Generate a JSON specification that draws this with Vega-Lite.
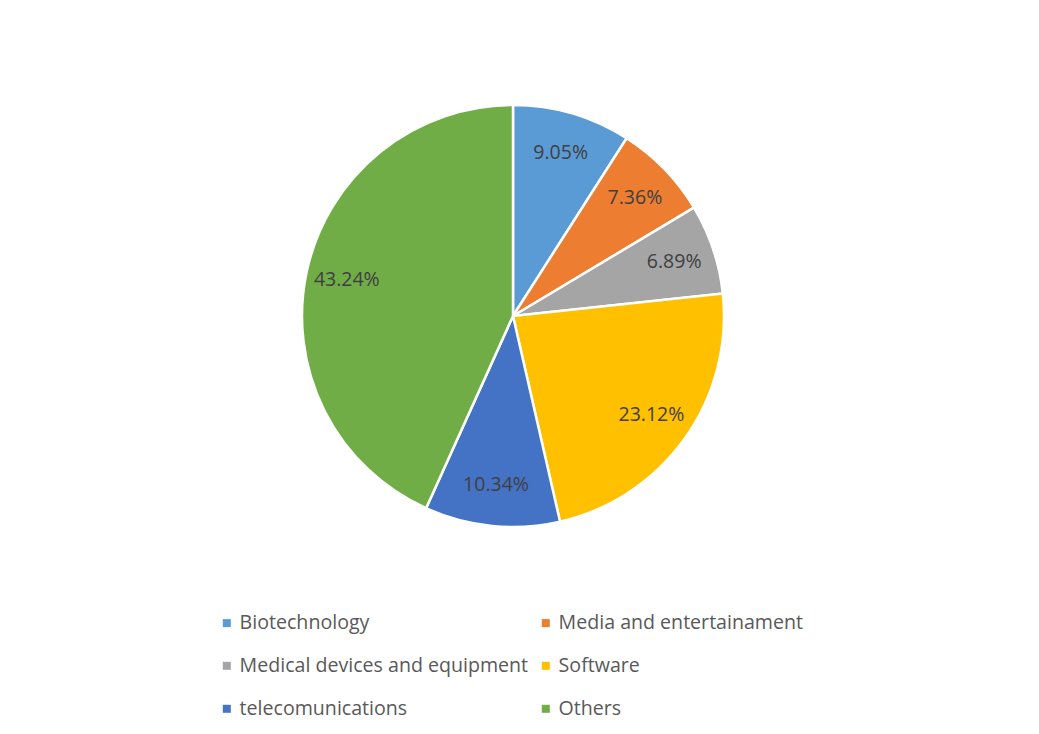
{
  "$schema": "https://vega.github.io/schema/vega-lite/v6.json",
  "width": 1012,
  "height": 618,
  "autosize": "none",
  "padding": {"left": 7, "top": 7, "right": 20, "bottom": 109},
  "background": "white",
  "config": {"view": {"stroke": null}},
  "data": {
    "values": [
      {"sector": "Biotechnology", "share": 0.0905, "rank": 1},
      {"sector": "Media and entertainament", "share": 0.0736, "rank": 2},
      {"sector": "Medical devices and equipment", "share": 0.0689, "rank": 3},
      {"sector": "Software", "share": 0.2312, "rank": 4},
      {"sector": "telecomunications", "share": 0.1034, "rank": 5},
      {"sector": "Others", "share": 0.4324, "rank": 6}
    ]
  },
  "encoding": {
    "theta": {"field": "share", "type": "quantitative", "stack": true},
    "order": {"field": "rank", "type": "quantitative"}
  },
  "layer": [
    {
      "mark": {"type": "arc", "outerRadius": 211, "stroke": "white", "strokeWidth": 2.5},
      "encoding": {
        "color": {
          "field": "sector",
          "type": "nominal",
          "scale": {
            "domain": ["Biotechnology", "Media and entertainament", "Medical devices and equipment", "Software", "telecomunications", "Others"],
            "range": ["#5B9BD5", "#ED7D31", "#A5A5A5", "#FFC000", "#4472C4", "#70AD47"]
          },
          "legend": {
            "orient": "none",
            "direction": "horizontal",
            "legendX": 210,
            "legendY": 606,
            "columns": 2,
            "title": null,
            "padding": 0,
            "symbolType": "square",
            "symbolSize": 64,
            "symbolStrokeWidth": 0,
            "labelFont": "Open Sans",
            "labelFontSize": 19.6,
            "labelColor": "#595959",
            "labelLimit": 0,
            "labelOffset": 3,
            "rowPadding": 22,
            "columnPadding": 7
          }
        }
      }
    },
    {
      "mark": {"type": "text", "radius": 170, "font": "Open Sans", "fontSize": 19.5, "fill": "#404040"},
      "encoding": {
        "detail": {"field": "sector", "type": "nominal"},
        "text": {"field": "share", "type": "quantitative", "format": ".2%"}
      }
    }
  ]
}
